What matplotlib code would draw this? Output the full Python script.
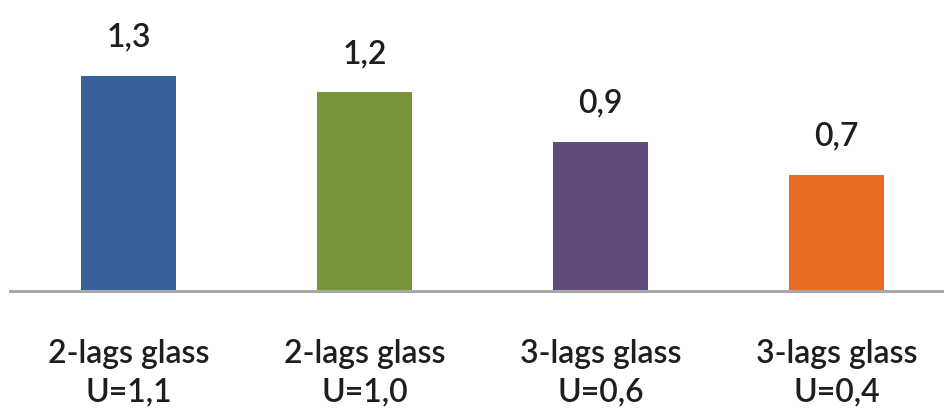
import matplotlib.pyplot as plt

# U-verdi og kategori for hver glasstype
kategorier = ['2-lags glass\nU=1,1', '2-lags glass\nU=1,0', '3-lags glass\nU=0,6', '3-lags glass\nU=0,4']
verdier = [1.3, 1.2, 0.9, 0.7]
etiketter = ['1,3', '1,2', '0,9', '0,7']
farger = ['#38609a', '#78943a', '#614a7c', '#e56c1e']

plt.rcParams['font.family'] = ['Lato', 'DejaVu Sans']

fig = plt.figure(figsize=(9.44, 4.08), dpi=100)
ax = fig.add_axes([0.0111, 0.2875, 0.9889, 0.7125])

x = range(len(verdier))
ax.bar(x, verdier, width=0.40, color=farger, zorder=2)

for i, (v, t) in enumerate(zip(verdier, etiketter)):
    ax.annotate(t, (i, v), xytext=(0, 21), textcoords='offset points',
                ha='center', va='baseline', fontsize=23, fontweight='semibold',
                color='#1e1e1e')

ax.set_xlim(-0.5, 3.456)
ax.set_ylim(0, 1.757)

# kategorinavn under aksen, to linjer hver (baseline = nederste linje)
ax.set_xticks(list(x))
ax.set_xticklabels([])
for i, k in enumerate(kategorier):
    ax.annotate(k, (i, 0), xytext=(0, -80), textcoords='offset points',
                ha='center', va='baseline', fontsize=23, fontweight='semibold',
                color='#1e1e1e', linespacing=1.36, annotation_clip=False)
ax.tick_params(axis='x', length=0)
ax.set_yticks([])

for side in ['top', 'right', 'left']:
    ax.spines[side].set_visible(False)
ax.spines['bottom'].set_color('#a8a8a8')
ax.spines['bottom'].set_linewidth(2.2)
ax.spines['bottom'].set_zorder(3)

fig.savefig('out.png', dpi=100)
